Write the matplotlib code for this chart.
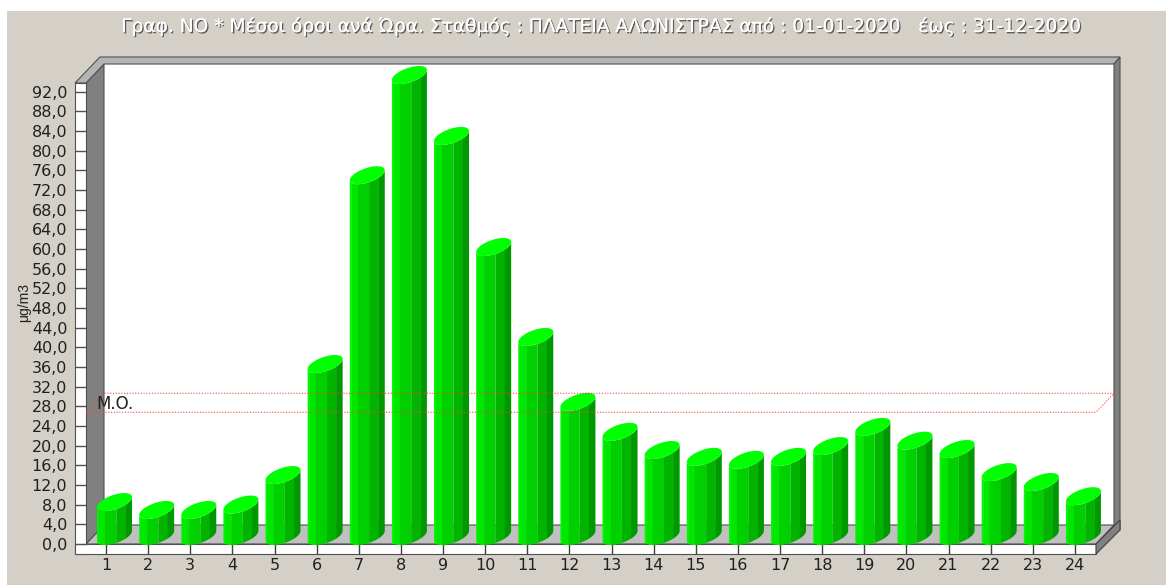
import numpy as np
import matplotlib
matplotlib.use('Agg')
import matplotlib.pyplot as plt
import matplotlib.patheffects as pe
from matplotlib.patches import Polygon

hours = list(range(1, 25))
no_mean = [6.9, 5.3, 5.3, 6.4, 12.4, 35.0, 73.4, 93.8, 81.4, 58.8, 40.5, 27.3,
           21.2, 17.5, 16.1, 15.5, 16.1, 18.3, 22.2, 19.4, 17.7, 13.0, 11.0, 8.1]
mean_value = 26.8
y_ticks = list(range(0, 93, 4))
title = 'Γραφ. NO * Μέσοι όροι ανά Ώρα. Σταθμός : ΠΛΑΤΕΙΑ ΑΛΩΝΙΣΤΡΑΣ από : 01-01-2020   έως : 31-12-2020'

W, H = 1166, 585
BG = '#d4d0c8'
fig = plt.figure(figsize=(W / 100, H / 100), dpi=100, facecolor='white')
fig.patches.append(plt.Rectangle((7 / W, 0), 1 - 7 / W, 1 - 11 / H, transform=fig.transFigure,
                                 color=BG, lw=0, zorder=-1))

# axes = front plane of the old 3d chart, pixels 86..1096 / 83..544
ax = fig.add_axes([86 / W, 1 - 544 / H, 1010 / W, 461 / H])
ax.set_xlim(0.525, 24.5)
ax.set_ylim(0, 461 / 4.915)
ax.patch.set_visible(False)
for s in ax.spines.values():
    s.set_visible(False)

px = 23.975 / 1010   # data units for one pixel in x
py = (461 / 4.915) / 461
x0, x1 = ax.get_xlim()
y0, y1 = ax.get_ylim()
DEPTH_X, DEPTH_Y = 18 * px, 19 * py   # depth of the box


def box(pts, color, z=1, ec='none', lw=0):
    ax.add_patch(Polygon(pts, closed=True, fc=color, ec=ec, lw=lw, zorder=z, clip_on=False))


# box walls
box([(x0 + DEPTH_X, y0 + DEPTH_Y), (x1 + DEPTH_X, y0 + DEPTH_Y), (x1 + DEPTH_X, y1 + DEPTH_Y), (x0 + DEPTH_X, y1 + DEPTH_Y)], 'white')
box([(x0, y0), (x0 + DEPTH_X, y0 + DEPTH_Y), (x0 + DEPTH_X, y1 + DEPTH_Y), (x0, y1)], '#808080', ec='#505050', lw=0.8)
box([(x0, y0), (x1, y0), (x1 + DEPTH_X, y0 + DEPTH_Y), (x0 + DEPTH_X, y0 + DEPTH_Y)], '#c0c0c0', ec='#505050', lw=0.8)
rw = 6 * px
box([(x0 - 11 * px, y1), (x0, y1), (x0 + DEPTH_X, y1 + DEPTH_Y), (x1 + DEPTH_X, y1 + DEPTH_Y),
     (x1 + DEPTH_X + rw, y1 + DEPTH_Y + 7 * py), (x0 + 14 * px, y1 + DEPTH_Y + 7 * py)], '#b4b4b4', ec='#505050', lw=0.8)
box([(x1 + DEPTH_X, y0 + DEPTH_Y), (x1 + DEPTH_X + rw, y0 + DEPTH_Y - 5 * py), (x1 + DEPTH_X + rw, y1 + DEPTH_Y + 7 * py), (x1 + DEPTH_X, y1 + DEPTH_Y)],
    '#808080', ec='#505050', lw=0.8)
# white strips carrying the ticks
box([(x0 - 11 * px, y0 - 10 * py), (x0, y0 - 10 * py), (x0, y1), (x0 - 11 * px, y1)], 'white', ec='#505050', lw=0.8)
box([(x0 - 11 * px, y0 - 10 * py), (x1, y0 - 10 * py), (x1, y0), (x0 - 11 * px, y0)], 'white', ec='#505050', lw=0.8)
# side of the floor slab
box([(x1, y0 - 10 * py), (x1 + DEPTH_X + rw, y0 + DEPTH_Y - 5 * py), (x1 + DEPTH_X + rw, y0 + DEPTH_Y + 5 * py), (x1, y0)],
    '#808080', ec='#404040', lw=0.8)

# cylinders, sheared ellipses measured off the big bars
A, DX, DY = 14.5 * px, 9.8 * px, 9 * py
OFF = 8.5 * px
BASE = 8 * py
phi = np.arctan2(DX, A)
t = np.linspace(np.pi + phi, 2 * np.pi + phi, 121)
u = A * np.cos(t) + DX * np.sin(t)
v = DY * np.sin(t)
umax = np.hypot(A, DX)
band_edges = [0.0, 0.05, 0.23, 0.55, 0.82, 1.0]
band_colors = ['#00f800', '#00e800', '#00d000', '#00b400', '#009800']
tt = np.linspace(0, 2 * np.pi, 80)

for h, val in zip(hours, no_mean):
    cx = h + OFF
    for b, col in enumerate(band_colors):
        frac = (u + umax) / (2 * umax)
        mask = (frac >= band_edges[b] - 0.01) & (frac <= band_edges[b + 1] + 0.01)
        xs = cx + u[mask]
        poly = list(zip(xs, BASE + v[mask])) + list(zip(xs[::-1], BASE + val + v[mask][::-1]))
        box(poly, col, z=3 + h * 0.01)
    top = list(zip(cx + A * np.cos(tt) + DX * np.sin(tt), BASE + val + DY * np.sin(tt)))
    box(top, '#00ff00', z=3 + h * 0.01 + 0.001)

# mean line, drawn over the bars like the original
ax.plot([x0, x1, x1 + DEPTH_X, x0 + DEPTH_X, x0], [mean_value, mean_value, mean_value + DEPTH_Y, mean_value + DEPTH_Y, mean_value],
        color='#ff4040', lw=0.8, ls=(0, (1, 1.5)), zorder=5, clip_on=False)
ax.text(0.78, mean_value + 1.6, 'M.O.', fontsize=12, color='#202020', va='center', ha='left', zorder=6)

ax.set_xticks(hours)
ax.set_yticks(y_ticks)
ax.set_yticklabels([f'{v:.1f}'.replace('.', ',') for v in y_ticks])
ax.tick_params(axis='y', length=11 * 0.72, width=1, color='#505050', pad=5.5, labelsize=11.5, labelcolor='#202020')
ax.tick_params(axis='x', length=10 * 0.72, width=1, color='#404040', pad=3, labelsize=11.5, labelcolor='#202020')

fig.text(24 / W, 1 - 303 / H, 'μg/m3', rotation=90, ha='center', va='center', fontsize=10, color='#202020', family='Liberation Sans')
fig.text(601 / W, 1 - 26 / H, title, ha='center', va='center', fontsize=13.4, color='white',
         path_effects=[pe.withSimplePatchShadow(offset=(1, -1), shadow_rgbFace='#505050', alpha=0.9), pe.Normal()])

fig.savefig('out.png', dpi=100, facecolor=fig.get_facecolor())
